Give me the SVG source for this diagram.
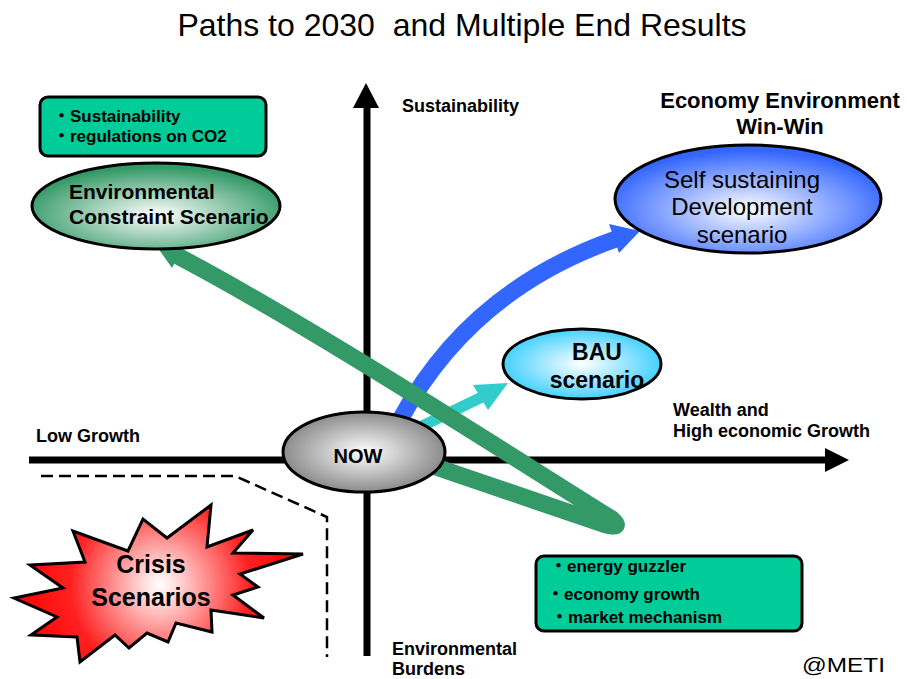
<svg xmlns="http://www.w3.org/2000/svg" width="907" height="679" viewBox="0 0 907 679">
<style>
  text { font-family: "Liberation Sans", "Noto Sans CJK JP", sans-serif; fill: #000; }
  .b { font-weight: bold; }
  .ax { font-weight: bold; font-size: 18px; }
  .bx { font-weight: bold; font-size: 17px; }
  .mid { text-anchor: middle; }
  .node { stroke: #000; stroke-width: 3; }
  .box { fill: #00CC99; stroke: #000; stroke-width: 3; }
  .axis { stroke: #000; stroke-width: 7; fill: none; }
  .dash { stroke: #000; stroke-width: 2.5; fill: none; stroke-dasharray: 12 6; }
  .green { stroke: #339966; stroke-width: 17; fill: none; stroke-linejoin: round; }
  .blue { stroke: #3366FF; stroke-width: 17; fill: none; }
  .cyan { stroke: #33CCCC; stroke-width: 11; fill: none; }
</style>
<defs>
  <radialGradient id="gGreen" cx="0.5" cy="0.6" r="0.55">
    <stop offset="0" stop-color="#FFFFFF"/>
    <stop offset="1" stop-color="#339966"/>
  </radialGradient>
  <radialGradient id="gBlue" cx="0.5" cy="0.6" r="0.55">
    <stop offset="0" stop-color="#FFFFFF"/>
    <stop offset="1" stop-color="#3366FF"/>
  </radialGradient>
  <radialGradient id="gCyan" cx="0.5" cy="0.5" r="0.55">
    <stop offset="0" stop-color="#FFFFFF"/>
    <stop offset="1" stop-color="#33CCFF"/>
  </radialGradient>
  <radialGradient id="gGrey" cx="0.5" cy="0.5" r="0.55">
    <stop offset="0" stop-color="#FFFFFF"/>
    <stop offset="1" stop-color="#808080"/>
  </radialGradient>
  <radialGradient id="gRed" gradientUnits="userSpaceOnUse" cx="160" cy="585" r="150">
    <stop offset="0" stop-color="#FFFFFF"/>
    <stop offset="0.1" stop-color="#FFE0E0"/>
    <stop offset="0.6" stop-color="#FF2020"/>
    <stop offset="1" stop-color="#FF0000"/>
  </radialGradient>
</defs>

<rect width="907" height="679" fill="#FFFFFF"/>

<text x="462" y="36" font-size="32" class="mid" style="white-space:pre">Paths to 2030  and Multiple End Results</text>

<g id="axes">
  <line class="axis" x1="367" y1="100" x2="367" y2="656"/>
  <polygon points="366,83 353,108 379,108" fill="#000"/>
  <line class="axis" x1="29" y1="460" x2="830" y2="460"/>
  <polygon points="849,460 825,448 825,472" fill="#000"/>
  <path class="dash" d="M41,476 L235,476 L327,517 L327,657"/>
</g>

<g id="connectors">
  <path class="blue" d="M400,420 Q470,290 616,239"/>
  <polygon points="640,231 609,224 619,253" fill="#3366FF"/>
  <line class="cyan" x1="418" y1="428" x2="482" y2="397"/>
  <polygon points="508,383 473,385 488,410" fill="#33CCCC"/>
  <path class="green" d="M430,465 L603,524 Q624,530 612,519 C470,430 300,320 172,253"/>
  <polygon points="153,241 185,243 172,268" fill="#339966"/>
</g>

<g id="box-sustainability">
  <rect class="box" x="40" y="97" width="226" height="59" rx="8"/>
  <text class="bx" x="53" y="122">・Sustainability</text>
  <text class="bx" x="53" y="142">・regulations on CO2</text>
</g>

<g id="node-environmental">
  <ellipse class="node" cx="156" cy="206" rx="124" ry="43" fill="url(#gGreen)"/>
  <text class="b" font-size="21" x="69" y="199">Environmental</text>
  <text class="b" font-size="21" x="69" y="224">Constraint Scenario</text>
</g>

<g id="label-winwin">
  <text class="b mid" font-size="22" x="780" y="108">Economy Environment</text>
  <text class="b mid" font-size="22" x="780" y="134">Win-Win</text>
</g>

<g id="node-selfsustaining">
  <ellipse class="node" cx="748" cy="199" rx="133" ry="54" fill="url(#gBlue)"/>
  <text class="mid" font-size="24" x="742" y="188">Self sustaining</text>
  <text class="mid" font-size="24" x="742" y="215">Development</text>
  <text class="mid" font-size="24" x="742" y="243">scenario</text>
</g>

<g id="node-bau">
  <ellipse class="node" cx="582" cy="364" rx="79" ry="35" fill="url(#gCyan)"/>
  <text class="b mid" font-size="23" x="597" y="360">BAU</text>
  <text class="b mid" font-size="23" x="597" y="388">scenario</text>
</g>

<g id="node-now">
  <ellipse class="node" cx="364" cy="452" rx="81" ry="40" fill="url(#gGrey)"/>
  <text class="b mid" font-size="20" x="358" y="463">NOW</text>
</g>

<g id="node-crisis">
  <polygon class="node" fill="url(#gRed)" points="211,505 207,547 253,530 233,553 303,554 240,574 258,587 233,595 264,618 211,610 212,632 176,623 168,642 147,633 129,648 115,635 80,662 77,637 31,635 57,617 14,598 63,588 30,565 85,562 73,531 128,551 143,519 167,538"/>
  <text class="b mid" font-size="25" x="151" y="573">Crisis</text>
  <text class="b mid" font-size="25" x="151" y="606">Scenarios</text>
</g>

<g id="box-market">
  <rect class="box" x="536" y="556" width="266" height="75" rx="8"/>
  <text class="bx" x="550" y="572">・energy guzzler</text>
  <text class="bx" x="547" y="600">・economy growth</text>
  <text class="bx" x="551" y="623">・market mechanism</text>
</g>

<g id="axis-labels">
  <text class="ax" x="402" y="112">Sustainability</text>
  <text class="ax" x="36" y="442">Low Growth</text>
  <text class="ax" x="673" y="416">Wealth and</text>
  <text class="ax" x="673" y="437">High economic Growth</text>
  <text class="ax" x="392" y="655">Environmental</text>
  <text class="ax" x="392" y="675">Burdens</text>
</g>

<text x="802" y="672" font-size="20" textLength="83" lengthAdjust="spacingAndGlyphs">@METI</text>
</svg>
